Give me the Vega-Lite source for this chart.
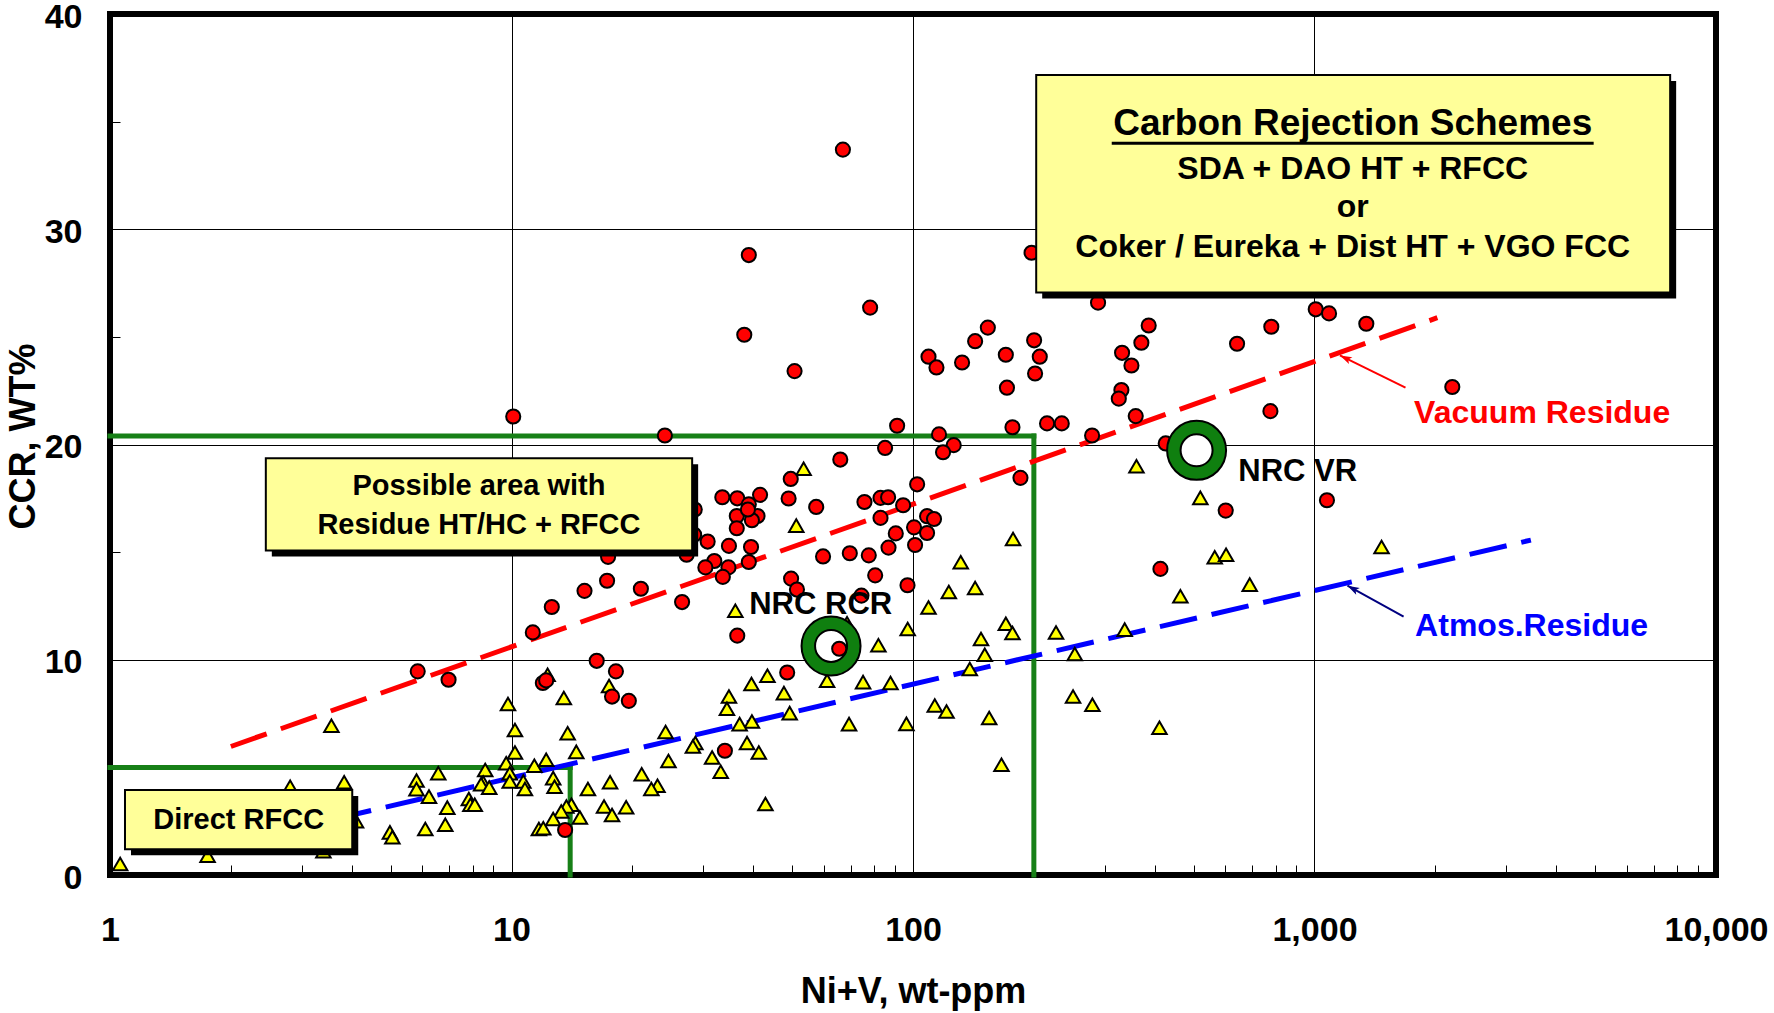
{
  "$schema": "https://vega.github.io/schema/vega-lite/v6.json",
  "width": 1606,
  "height": 861,
  "autosize": {"type": "none"},
  "padding": {"left": 110, "top": 14, "right": 58, "bottom": 138},
  "background": "white",
  "config": {
    "view": {"stroke": "black", "strokeWidth": 6},
    "font": "Liberation Sans",
    "text": {"font": "Liberation Sans", "fontWeight": "bold"}
  },
  "datasets": {
    "zones": [
      {"nv": 1, "nv2": 200, "ccr": 20.4, "ccr2": 20.4},
      {"nv": 200, "nv2": 200, "ccr": 0, "ccr2": 20.4},
      {"nv": 1, "nv2": 14, "ccr": 5, "ccr2": 5},
      {"nv": 14, "nv2": 14, "ccr": 0, "ccr2": 5}
    ],
    "vrTrend": [{"nv": 2, "ccr": 5.97}, {"nv": 2023, "ccr": 25.89}],
    "arTrend": [{"nv": 2, "ccr": 1.475}, {"nv": 3459, "ccr": 15.56}],
    "ar": [
      {"nv": 9.8, "ccr": 7.94}, {"nv": 13.5, "ccr": 8.22}, {"nv": 12.3, "ccr": 9.3}, {"nv": 17.5, "ccr": 8.78},
      {"nv": 10.2, "ccr": 6.74}, {"nv": 13.8, "ccr": 6.59}, {"nv": 10.2, "ccr": 5.69}, {"nv": 14.5, "ccr": 5.72},
      {"nv": 9.7, "ccr": 5.19}, {"nv": 11.4, "ccr": 5.08}, {"nv": 12.2, "ccr": 5.35}, {"nv": 8.6, "ccr": 4.88},
      {"nv": 9.9, "ccr": 4.73}, {"nv": 9.9, "ccr": 4.34}, {"nv": 10.7, "ccr": 4.34}, {"nv": 10.8, "ccr": 4.0},
      {"nv": 8.5, "ccr": 4.3}, {"nv": 8.4, "ccr": 4.22}, {"nv": 8.8, "ccr": 4.06}, {"nv": 12.7, "ccr": 4.5},
      {"nv": 12.8, "ccr": 4.1}, {"nv": 15.5, "ccr": 4.0}, {"nv": 17.6, "ccr": 4.31}, {"nv": 6.57, "ccr": 4.73},
      {"nv": 5.8, "ccr": 4.39}, {"nv": 5.8, "ccr": 3.99}, {"nv": 3.83, "ccr": 4.31}, {"nv": 2.81, "ccr": 4.1},
      {"nv": 6.23, "ccr": 3.64}, {"nv": 7.83, "ccr": 3.53}, {"nv": 7.9, "ccr": 3.26}, {"nv": 8.1, "ccr": 3.26},
      {"nv": 6.92, "ccr": 3.13}, {"nv": 6.84, "ccr": 2.33}, {"nv": 6.1, "ccr": 2.14}, {"nv": 4.98, "ccr": 1.98},
      {"nv": 5.05, "ccr": 1.75}, {"nv": 3.56, "ccr": 6.93}, {"nv": 14.1, "ccr": 3.26}, {"nv": 13.7, "ccr": 3.18},
      {"nv": 13.3, "ccr": 2.95}, {"nv": 14.8, "ccr": 2.67}, {"nv": 12.7, "ccr": 2.6}, {"nv": 11.7, "ccr": 2.14},
      {"nv": 12.0, "ccr": 2.17}, {"nv": 17.0, "ccr": 3.18}, {"nv": 17.8, "ccr": 2.79}, {"nv": 1.06, "ccr": 0.51},
      {"nv": 1.75, "ccr": 0.9}, {"nv": 3.4, "ccr": 1.1}, {"nv": 4.1, "ccr": 2.5}, {"nv": 53.4, "ccr": 18.87},
      {"nv": 51.2, "ccr": 16.23}, {"nv": 177.5, "ccr": 15.61}, {"nv": 131.5, "ccr": 14.53}, {"nv": 36.1, "ccr": 12.28},
      {"nv": 122.8, "ccr": 13.15}, {"nv": 142.8, "ccr": 13.33}, {"nv": 109.3, "ccr": 12.43}, {"nv": 97, "ccr": 11.43},
      {"nv": 82, "ccr": 10.67}, {"nv": 170.3, "ccr": 11.67}, {"nv": 176.9, "ccr": 11.24}, {"nv": 147.7, "ccr": 10.96},
      {"nv": 150.9, "ccr": 10.23}, {"nv": 227.1, "ccr": 11.27}, {"nv": 252.9, "ccr": 10.27}, {"nv": 138.5, "ccr": 9.57},
      {"nv": 250.4, "ccr": 8.29}, {"nv": 113.3, "ccr": 7.87}, {"nv": 121.2, "ccr": 7.6}, {"nv": 154.8, "ccr": 7.29},
      {"nv": 166.1, "ccr": 5.12}, {"nv": 96.3, "ccr": 7.02}, {"nv": 69.3, "ccr": 7.01}, {"nv": 75.1, "ccr": 8.96},
      {"nv": 87.9, "ccr": 8.92}, {"nv": 61.1, "ccr": 9.02}, {"nv": 47.7, "ccr": 8.45}, {"nv": 43.4, "ccr": 9.26},
      {"nv": 39.6, "ccr": 8.87}, {"nv": 34.8, "ccr": 8.29}, {"nv": 34.4, "ccr": 7.72}, {"nv": 49.3, "ccr": 7.52},
      {"nv": 39.7, "ccr": 7.13}, {"nv": 37, "ccr": 7.01}, {"nv": 38.6, "ccr": 6.13}, {"nv": 41.3, "ccr": 5.69},
      {"nv": 42.9, "ccr": 3.3}, {"nv": 31.6, "ccr": 5.46}, {"nv": 33.2, "ccr": 4.8}, {"nv": 28.7, "ccr": 6.13},
      {"nv": 28.3, "ccr": 5.97}, {"nv": 24.2, "ccr": 6.64}, {"nv": 24.6, "ccr": 5.3}, {"nv": 21.1, "ccr": 4.68},
      {"nv": 23.1, "ccr": 4.15}, {"nv": 22.3, "ccr": 4.0}, {"nv": 19.3, "ccr": 3.15}, {"nv": 360.2, "ccr": 18.99},
      {"nv": 519.6, "ccr": 17.52}, {"nv": 564.3, "ccr": 14.76}, {"nv": 602.2, "ccr": 14.88}, {"nv": 689.7, "ccr": 13.49},
      {"nv": 463.4, "ccr": 12.95}, {"nv": 1469, "ccr": 15.24}, {"nv": 336.7, "ccr": 11.4}, {"nv": 279.8, "ccr": 7.91},
      {"nv": 411, "ccr": 6.84}, {"nv": 68.5, "ccr": 11.7}
    ],
    "vr": [
      {"nv": 15.2, "ccr": 13.2}, {"nv": 12.6, "ccr": 12.45}, {"nv": 11.3, "ccr": 11.27}, {"nv": 16.3, "ccr": 9.95},
      {"nv": 18.2, "ccr": 9.46}, {"nv": 5.84, "ccr": 9.46}, {"nv": 6.97, "ccr": 9.07}, {"nv": 11.97, "ccr": 8.92},
      {"nv": 12.2, "ccr": 9.04}, {"nv": 17.8, "ccr": 8.29}, {"nv": 13.6, "ccr": 2.09}, {"nv": 10.1, "ccr": 21.3},
      {"nv": 38, "ccr": 25.1}, {"nv": 78.2, "ccr": 26.36}, {"nv": 50.7, "ccr": 23.41}, {"nv": 24.1, "ccr": 20.42},
      {"nv": 91.3, "ccr": 20.87}, {"nv": 85.2, "ccr": 19.84}, {"nv": 65.9, "ccr": 19.3}, {"nv": 109.3, "ccr": 24.08},
      {"nv": 114.4, "ccr": 23.58}, {"nv": 132.5, "ccr": 23.81}, {"nv": 142.8, "ccr": 24.8}, {"nv": 153.6, "ccr": 25.43},
      {"nv": 170.3, "ccr": 24.17}, {"nv": 200.3, "ccr": 24.84}, {"nv": 206.9, "ccr": 24.08}, {"nv": 201.4, "ccr": 23.3},
      {"nv": 171.4, "ccr": 22.64}, {"nv": 176.9, "ccr": 20.8}, {"nv": 215.7, "ccr": 20.98}, {"nv": 234.7, "ccr": 20.98},
      {"nv": 116.1, "ccr": 20.47}, {"nv": 126.3, "ccr": 19.97}, {"nv": 118.8, "ccr": 19.64}, {"nv": 185.2, "ccr": 18.45},
      {"nv": 102.4, "ccr": 18.15}, {"nv": 49.6, "ccr": 18.4}, {"nv": 49, "ccr": 17.49}, {"nv": 57.4, "ccr": 17.1},
      {"nv": 75.7, "ccr": 17.33}, {"nv": 83, "ccr": 17.52}, {"nv": 86.7, "ccr": 17.55}, {"nv": 94.5, "ccr": 17.18},
      {"nv": 83, "ccr": 16.59}, {"nv": 108.4, "ccr": 16.67}, {"nv": 112.8, "ccr": 16.54}, {"nv": 100.6, "ccr": 16.15},
      {"nv": 108.4, "ccr": 15.89}, {"nv": 90.6, "ccr": 15.87}, {"nv": 86.9, "ccr": 15.21}, {"nv": 101.2, "ccr": 15.33},
      {"nv": 59.7, "ccr": 14.8}, {"nv": 69.6, "ccr": 14.95}, {"nv": 77.6, "ccr": 14.85}, {"nv": 33.5, "ccr": 17.55},
      {"nv": 36.5, "ccr": 17.5}, {"nv": 41.6, "ccr": 17.66}, {"nv": 39, "ccr": 17.22}, {"nv": 36.4, "ccr": 16.68},
      {"nv": 41, "ccr": 16.68}, {"nv": 39.7, "ccr": 16.48}, {"nv": 38.8, "ccr": 16.98}, {"nv": 36.4, "ccr": 16.11},
      {"nv": 30.8, "ccr": 15.49}, {"nv": 34.8, "ccr": 15.29}, {"nv": 39.5, "ccr": 15.24}, {"nv": 32, "ccr": 14.59},
      {"nv": 39, "ccr": 14.54}, {"nv": 30.4, "ccr": 14.29}, {"nv": 34.7, "ccr": 14.29}, {"nv": 28.6, "ccr": 16.98},
      {"nv": 28.5, "ccr": 15.81}, {"nv": 17.4, "ccr": 14.78}, {"nv": 27.3, "ccr": 14.88}, {"nv": 33.6, "ccr": 13.85},
      {"nv": 17.3, "ccr": 13.67}, {"nv": 21, "ccr": 13.3}, {"nv": 26.6, "ccr": 12.68}, {"nv": 49.7, "ccr": 13.77},
      {"nv": 51.4, "ccr": 13.26}, {"nv": 80.5, "ccr": 13.92}, {"nv": 96.9, "ccr": 13.46}, {"nv": 74.4, "ccr": 12.98},
      {"nv": 36.5, "ccr": 11.12}, {"nv": 19.6, "ccr": 8.09}, {"nv": 48.6, "ccr": 9.41}, {"nv": 65.5, "ccr": 10.51},
      {"nv": 34, "ccr": 5.77}, {"nv": 289, "ccr": 26.59}, {"nv": 386.4, "ccr": 25.53}, {"nv": 370.5, "ccr": 24.73},
      {"nv": 331.7, "ccr": 24.26}, {"nv": 350, "ccr": 23.67}, {"nv": 330.4, "ccr": 22.53}, {"nv": 325.5, "ccr": 22.13},
      {"nv": 358.7, "ccr": 21.32}, {"nv": 641.4, "ccr": 24.68}, {"nv": 780.6, "ccr": 25.47}, {"nv": 1007, "ccr": 26.28},
      {"nv": 1087, "ccr": 26.09}, {"nv": 1346, "ccr": 25.61}, {"nv": 2204, "ccr": 22.67}, {"nv": 776.6, "ccr": 21.55},
      {"nv": 197.4, "ccr": 28.91}, {"nv": 66.9, "ccr": 33.7}, {"nv": 39, "ccr": 28.8}, {"nv": 279.3, "ccr": 20.42},
      {"nv": 426, "ccr": 20.05}, {"nv": 517.6, "ccr": 19.15}, {"nv": 601, "ccr": 16.93}, {"nv": 1074, "ccr": 17.41},
      {"nv": 413.3, "ccr": 14.22}
    ],
    "rings": [{"nv": 62.5, "ccr": 10.64}, {"nv": 508.5, "ccr": 19.73}],
    "nrc": [{"t": "NRC RCR", "nv": 58.9, "ccr": 12.14}, {"t": "NRC VR", "nv": 908, "ccr": 18.29}],
    "redArrow": [{"nv": 1685, "ccr": 22.64, "nv2": 1157, "ccr2": 24.14}],
    "blueArrow": [{"nv": 1667, "ccr": 12.0, "nv2": 1208, "ccr2": 13.44}],
    "redTip": [{"nv": 1157, "ccr": 24.14}],
    "blueTip": [{"nv": 1208, "ccr": 13.44}],
    "redLabel": [{"t": "Vacuum Residue", "nv": 3690, "ccr": 21.01}],
    "blueLabel": [{"t": "Atmos.Residue", "nv": 3473, "ccr": 11.1}],
    "boxes": [
      {"nv": 202.7, "nv2": 7688, "ccr": 27.06, "ccr2": 37.17},
      {"nv": 2.444, "nv2": 28.18, "ccr": 15.07, "ccr2": 19.36},
      {"nv": 1.0898, "nv2": 4.012, "ccr": 1.195, "ccr2": 3.953}
    ],
    "carbonTitle": [{"t": "Carbon Rejection Schemes", "nv": 1245, "ccr": 34.37}],
    "underline": [{"nv": 312.6, "nv2": 4958, "ccr": 34.0}],
    "carbonBody": [
      {"t": "SDA + DAO HT + RFCC", "nv": 1245, "ccr": 32.33},
      {"t": "or", "nv": 1245, "ccr": 30.56},
      {"t": "Coker / Eureka + Dist HT + VGO FCC", "nv": 1245, "ccr": 28.7}
    ],
    "possible": [
      {"t": "Possible area with", "nv": 8.296, "ccr": 17.67},
      {"t": "Residue HT/HC + RFCC", "nv": 8.296, "ccr": 15.86}
    ],
    "direct": [{"t": "Direct RFCC", "nv": 2.092, "ccr": 2.126}]
  },
  "encoding": {
    "x": {
      "field": "nv", "type": "quantitative",
      "scale": {"type": "log", "domain": [1, 10000], "nice": false},
      "axis": {
        "title": "Ni+V, wt-ppm",
        "values": [1, 2, 3, 4, 5, 6, 7, 8, 9, 10, 20, 30, 40, 50, 60, 70, 80, 90, 100, 200, 300, 400, 500, 600, 700, 800, 900, 1000, 2000, 3000, 4000, 5000, 6000, 7000, 8000, 9000, 10000],
        "labelExpr": "indexof([1,10,100,1000,10000], datum.value) >= 0 ? format(datum.value, ',') : ''",
        "labelFlush": false,
        "labelOverlap": false,
        "labelBound": false,
        "labelFont": "Liberation Sans",
        "labelFontSize": 34,
        "labelFontWeight": "bold",
        "labelColor": "black",
        "labelPadding": 48,
        "ticks": true,
        "tickSize": -10,
        "tickColor": "black",
        "tickWidth": 1,
        "domain": false,
        "grid": true,
        "gridColor": "black",
        "gridWidth": 1,
        "gridOpacity": {"condition": {"test": "indexof([1,10,100,1000,10000], datum.value) >= 0", "value": 1}, "value": 0},
        "titleFont": "Liberation Sans",
        "titleFontSize": 36,
        "titleFontWeight": "bold",
        "titleColor": "black",
        "titleBaseline": "alphabetic",
        "titleAlign": "center",
        "titleX": 803,
        "titleY": 127
      }
    },
    "y": {
      "field": "ccr", "type": "quantitative",
      "scale": {"domain": [0, 40], "nice": false, "zero": false},
      "axis": {
        "title": "CCR, WT%",
        "values": [0, 5, 10, 15, 20, 25, 30, 35, 40],
        "labelExpr": "datum.value % 10 === 0 ? datum.label : ''",
        "labelFlush": false,
        "labelOverlap": false,
        "labelBound": false,
        "labelFont": "Liberation Sans",
        "labelFontSize": 34,
        "labelFontWeight": "bold",
        "labelColor": "black",
        "labelPadding": 38,
        "labelOffset": 3,
        "ticks": true,
        "tickSize": -10,
        "tickColor": "black",
        "tickWidth": 1,
        "domain": false,
        "grid": true,
        "gridColor": "black",
        "gridWidth": 1,
        "gridOpacity": {"condition": {"test": "datum.value % 10 === 0", "value": 1}, "value": 0},
        "titleFont": "Liberation Sans",
        "titleFontSize": 36,
        "titleFontWeight": "bold",
        "titleColor": "black",
        "titleBaseline": "alphabetic",
        "titleAlign": "center",
        "titleAngle": -90,
        "titleX": -76,
        "titleY": 422
      }
    }
  },
  "layer": [
    {
      "data": {"name": "zones"},
      "mark": {"type": "rule", "color": "#178017", "strokeWidth": 5, "strokeCap": "square"},
      "encoding": {"x2": {"field": "nv2"}, "y2": {"field": "ccr2"}}
    },
    {
      "data": {"name": "vrTrend"},
      "mark": {"type": "line", "color": "#ff0000", "strokeWidth": 5, "strokeDash": [38, 15]},
      "encoding": {}
    },
    {
      "data": {"name": "arTrend"},
      "mark": {"type": "line", "color": "#0000ff", "strokeWidth": 5, "strokeDash": [38, 15]},
      "encoding": {}
    },
    {
      "data": {"name": "ar"},
      "mark": {"type": "point", "shape": "triangle-up", "filled": true, "fill": "#ffff00", "stroke": "black", "strokeWidth": 2, "size": 210, "opacity": 1},
      "encoding": {}
    },
    {
      "data": {"name": "vr"},
      "mark": {"type": "point", "shape": "circle", "filled": true, "fill": "#ff0000", "stroke": "black", "strokeWidth": 2, "size": 200, "opacity": 1},
      "encoding": {}
    },
    {
      "data": {"name": "rings"},
      "mark": {"type": "point", "shape": "circle", "filled": true, "fill": "#0f7f0f", "stroke": "black", "strokeWidth": 2, "size": 3481, "opacity": 1},
      "encoding": {}
    },
    {
      "data": {"name": "rings"},
      "mark": {"type": "point", "shape": "circle", "filled": true, "fill": "white", "stroke": "black", "strokeWidth": 2, "size": 1024, "opacity": 1},
      "encoding": {}
    },
    {
      "data": {"name": "vr"},
      "transform": [{"filter": "datum.nv === 65.5 && datum.ccr === 10.51"}],
      "mark": {"type": "point", "shape": "circle", "filled": true, "fill": "#ff0000", "stroke": "black", "strokeWidth": 2, "size": 200, "opacity": 1},
      "encoding": {}
    },
    {
      "data": {"name": "nrc"},
      "mark": {"type": "text", "font": "Liberation Sans", "fontWeight": "bold", "fontSize": 31, "color": "black", "align": "center", "baseline": "alphabetic"},
      "encoding": {"text": {"field": "t"}}
    },
    {
      "data": {"name": "redArrow"},
      "mark": {"type": "rule", "color": "#ff0000", "strokeWidth": 2},
      "encoding": {"x2": {"field": "nv2"}, "y2": {"field": "ccr2"}}
    },
    {
      "data": {"name": "blueArrow"},
      "mark": {"type": "rule", "color": "#000080", "strokeWidth": 2},
      "encoding": {"x2": {"field": "nv2"}, "y2": {"field": "ccr2"}}
    },
    {
      "data": {"name": "redTip"},
      "mark": {"type": "point", "shape": "M0,0L0.42,1.3L0,1L-0.42,1.3Z", "filled": true, "fill": "#ff0000", "strokeWidth": 0, "size": 340, "angle": 296, "opacity": 1},
      "encoding": {}
    },
    {
      "data": {"name": "blueTip"},
      "mark": {"type": "point", "shape": "M0,0L0.42,1.3L0,1L-0.42,1.3Z", "filled": true, "fill": "#000080", "strokeWidth": 0, "size": 340, "angle": 298, "opacity": 1},
      "encoding": {}
    },
    {
      "data": {"name": "redLabel"},
      "mark": {"type": "text", "font": "Liberation Sans", "fontWeight": "bold", "fontSize": 32, "color": "#ff0000", "align": "center", "baseline": "alphabetic"},
      "encoding": {"text": {"field": "t"}}
    },
    {
      "data": {"name": "blueLabel"},
      "mark": {"type": "text", "font": "Liberation Sans", "fontWeight": "bold", "fontSize": 32, "color": "#0000ff", "align": "center", "baseline": "alphabetic"},
      "encoding": {"text": {"field": "t"}}
    },
    {
      "data": {"name": "boxes"},
      "mark": {"type": "rect", "color": "black", "opacity": 1, "xOffset": 6, "x2Offset": 6, "yOffset": 6, "y2Offset": 6},
      "encoding": {"x2": {"field": "nv2"}, "y2": {"field": "ccr2"}}
    },
    {
      "data": {"name": "boxes"},
      "mark": {"type": "rect", "fill": "#ffff99", "stroke": "black", "strokeWidth": 2, "opacity": 1},
      "encoding": {"x2": {"field": "nv2"}, "y2": {"field": "ccr2"}}
    },
    {
      "data": {"name": "carbonTitle"},
      "mark": {"type": "text", "font": "Liberation Sans", "fontWeight": "bold", "fontSize": 37, "color": "black", "align": "center", "baseline": "alphabetic"},
      "encoding": {"text": {"field": "t"}}
    },
    {
      "data": {"name": "underline"},
      "mark": {"type": "rule", "color": "black", "strokeWidth": 3},
      "encoding": {"x2": {"field": "nv2"}}
    },
    {
      "data": {"name": "carbonBody"},
      "mark": {"type": "text", "font": "Liberation Sans", "fontWeight": "bold", "fontSize": 32, "color": "black", "align": "center", "baseline": "alphabetic"},
      "encoding": {"text": {"field": "t"}}
    },
    {
      "data": {"name": "possible"},
      "mark": {"type": "text", "font": "Liberation Sans", "fontWeight": "bold", "fontSize": 29, "color": "black", "align": "center", "baseline": "alphabetic"},
      "encoding": {"text": {"field": "t"}}
    },
    {
      "data": {"name": "direct"},
      "mark": {"type": "text", "font": "Liberation Sans", "fontWeight": "bold", "fontSize": 29, "color": "black", "align": "center", "baseline": "alphabetic"},
      "encoding": {"text": {"field": "t"}}
    }
  ]
}
